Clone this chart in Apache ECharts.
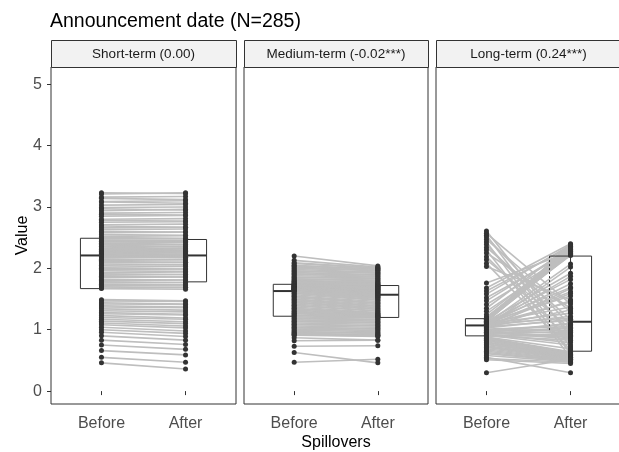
<!DOCTYPE html>
<html>
<head>
<meta charset="utf-8">
<script src="https://cdn.jsdelivr.net/npm/echarts@6/dist/echarts.min.js"></script>
<style>
  html, body { margin: 0; padding: 0; background: #fff; }
  #chart { width: 619px; height: 452px; }
</style>
</head>
<body>
<div id="chart"></div>
<script>
// facet titles, categories, ticks
var panelNames = ['Short-term (0.00)', 'Medium-term (-0.02***)', 'Long-term (0.24***)'];
var xLabels = ['Before', 'After'];
var yTicks = [0, 1, 2, 3, 4, 5];

// paired values (Before -> After)
var shortBefore = [3.23, 3.21, 3.16, 3.14, 3.09, 3.08, 3.03, 2.99, 2.97, 2.94, 2.90, 2.88, 2.85, 2.80, 2.78, 2.75, 2.71, 2.69, 2.66, 2.63, 2.60, 2.58, 2.55, 2.52, 2.50,
  2.48, 2.46, 2.44, 2.43, 2.41, 2.39, 2.38, 2.36, 2.35, 2.33, 2.32, 2.31, 2.29, 2.28, 2.27, 2.26, 2.25, 2.24, 2.23, 2.22, 2.21, 2.21, 2.20, 2.19, 2.19,
  2.17, 2.15, 2.13, 2.11, 2.09, 2.07, 2.05, 2.02, 2.00, 1.98, 1.96, 1.93, 1.91, 1.89, 1.87, 1.85, 1.82, 1.80, 1.78, 1.76, 1.74, 1.72, 1.70, 1.68, 1.67,
  1.49, 1.47, 1.44, 1.42, 1.39, 1.37, 1.34, 1.31, 1.28, 1.26, 1.23, 1.20, 1.17, 1.14, 1.11, 1.08, 1.04, 1.00, 0.96, 0.90, 0.83, 0.75, 0.66, 0.55, 0.46];
var shortAfter = [3.22, 3.23, 3.17, 3.12, 3.10, 3.06, 3.04, 3.00, 2.95, 2.96, 2.91, 2.87, 2.86, 2.81, 2.77, 2.76, 2.72, 2.67, 2.67, 2.64, 2.59, 2.59, 2.54, 2.53, 2.49,
  2.48, 2.45, 2.44, 2.42, 2.39, 2.38, 2.35, 2.35, 2.32, 2.32, 2.30, 2.29, 2.28, 2.27, 2.25, 2.25, 2.23, 2.22, 2.21, 2.20, 2.19, 2.21, 2.18, 2.20, 2.17,
  2.18, 2.14, 2.14, 2.10, 2.10, 2.06, 2.06, 2.03, 1.99, 1.99, 1.95, 1.94, 1.90, 1.90, 1.86, 1.86, 1.81, 1.81, 1.77, 1.77, 1.73, 1.73, 1.69, 1.69, 1.66,
  1.47, 1.46, 1.42, 1.41, 1.37, 1.36, 1.32, 1.29, 1.25, 1.24, 1.19, 1.17, 1.13, 1.10, 1.06, 1.03, 0.98, 0.94, 0.89, 0.83, 0.76, 0.68, 0.59, 0.47, 0.36];

var mediumBefore = [2.20, 2.13, 2.09, 2.08, 2.05, 2.04, 2.02, 2.00, 1.98, 1.96, 1.95, 1.93, 1.91, 1.90, 1.88, 1.86, 1.85, 1.83, 1.82, 1.80, 1.79, 1.78, 1.77, 1.76, 1.75,
  1.74, 1.74, 1.73, 1.73, 1.72, 1.72, 1.71, 1.71, 1.70, 1.70, 1.69, 1.69, 1.68, 1.68, 1.67, 1.67, 1.67, 1.66, 1.66, 1.66, 1.65, 1.65, 1.65, 1.64, 1.64,
  1.62, 1.60, 1.59, 1.57, 1.55, 1.54, 1.52, 1.50, 1.49, 1.47, 1.45, 1.44, 1.42, 1.40, 1.39, 1.37, 1.35, 1.34, 1.32, 1.30, 1.29, 1.27, 1.26, 1.24, 1.23,
  1.21, 1.19, 1.18, 1.16, 1.14, 1.13, 1.11, 1.09, 1.08, 1.06, 1.04, 1.03, 1.01, 0.99, 0.97, 0.96, 0.94, 0.93, 0.92, 0.91, 0.87, 0.82, 0.73, 0.63, 0.47];
var mediumAfter = [2.04, 2.02, 2.01, 2.00, 1.99, 1.98, 1.97, 1.96, 1.94, 1.93, 1.92, 1.90, 1.89, 1.87, 1.86, 1.84, 1.83, 1.81, 1.80, 1.78, 1.77, 1.76, 1.75, 1.74, 1.73,
  1.72, 1.72, 1.71, 1.70, 1.70, 1.69, 1.68, 1.68, 1.67, 1.66, 1.66, 1.65, 1.64, 1.63, 1.63, 1.62, 1.61, 1.60, 1.59, 1.58, 1.57, 1.56, 1.55, 1.54, 1.53,
  1.52, 1.51, 1.49, 1.48, 1.46, 1.44, 1.43, 1.41, 1.39, 1.38, 1.36, 1.34, 1.33, 1.31, 1.30, 1.28, 1.27, 1.26, 1.25, 1.24, 1.23, 1.22, 1.22, 1.21, 1.20,
  1.19, 1.17, 1.16, 1.14, 1.12, 1.11, 1.09, 1.07, 1.06, 1.04, 1.02, 1.01, 0.99, 0.97, 0.95, 0.94, 0.92, 0.91, 0.90, 0.89, 0.83, 0.83, 0.74, 0.46, 0.52];

var longBefore = [2.61, 2.57, 2.54, 2.51, 2.47, 2.43, 2.39, 2.34, 2.30, 2.25, 2.19, 2.14, 2.08, 2.03,
  1.76,
  1.68, 1.63, 1.58, 1.52, 1.47, 1.41, 1.35, 1.30, 1.25, 1.21,
  1.19, 1.19, 1.18, 1.18, 1.17, 1.17, 1.16, 1.16, 1.15, 1.15, 1.14, 1.14, 1.13, 1.13, 1.13, 1.12, 1.12, 1.11, 1.11, 1.10, 1.10, 1.09, 1.09, 1.08, 1.08,
  1.07, 1.07, 1.06, 1.05, 1.05, 1.04, 1.03, 1.03, 1.02, 1.01, 1.00, 1.00, 0.99, 0.98, 0.97, 0.96, 0.96, 0.95, 0.94, 0.93, 0.93, 0.92, 0.91, 0.91, 0.90,
  0.89, 0.88, 0.87, 0.86, 0.85, 0.84, 0.83, 0.82, 0.80, 0.79, 0.77, 0.76, 0.74, 0.72, 0.71, 0.69, 0.67, 0.65, 0.63, 0.61, 0.58, 0.55, 0.53, 0.51, 0.30];
var longAfter = [0.89, 1.42, 0.72, 1.07, 1.29, 0.61, 0.95, 1.17, 0.55, 1.35, 0.82, 1.02, 0.67, 1.49,
  2.27,
  2.40, 2.35, 2.38, 2.27, 2.32, 2.24, 2.37, 2.22, 2.30, 2.25,
  2.33, 2.21, 2.28, 2.36, 2.23, 2.31, 2.26, 2.34, 2.22, 2.29, 2.24, 2.39, 2.27, 2.32, 1.92, 1.69, 1.55, 1.82, 1.37, 2.07, 1.27, 1.62, 1.19, 1.45, 1.75,
  1.87, 1.22, 1.59, 1.15, 2.02, 1.32, 1.47, 1.17, 1.67, 1.05, 0.99, 0.93, 1.09, 0.87, 1.02, 0.96, 0.85, 1.11, 0.91, 0.97, 0.79, 1.04, 0.89, 0.75, 0.83,
  0.92, 0.69, 0.64, 0.63, 0.62, 0.61, 0.60, 0.59, 0.59, 0.58, 0.57, 0.57, 0.56, 0.55, 0.54, 0.53, 0.52, 0.51, 0.50, 0.49, 0.48, 0.30, 0.47, 0.45, 0.52];

// box statistics [q1, median, q3] per panel
var boxBefore = [[1.67, 2.21, 2.49], [1.22, 1.63, 1.74], [0.90, 1.07, 1.18]];
var boxAfter = [[1.78, 2.21, 2.47], [1.20, 1.57, 1.72], [0.65, 1.13, 2.20]];

var pairs = [[shortBefore, shortAfter], [mediumBefore, mediumAfter], [longBefore, longAfter]];

var FONT = "'Liberation Sans', Arial, sans-serif";
var gridLeft = [51, 244, 436];
var gridWidth = [185, 184, 185];
var TOP = 67, HEIGHT = 337;

var chart = echarts.init(document.getElementById('chart'));

var grids = [], xAxes = [], yAxes = [], series = [], graphics = [];

gridLeft.forEach(function (left, i) {
  grids.push({ left: left, top: TOP, width: gridWidth[i], height: HEIGHT, show: true,
    outerBoundsMode: 'none', containLabel: false,
    borderColor: '#333', borderWidth: 1, backgroundColor: '#fff' });

  xAxes.push({
    type: 'value', gridIndex: i, min: 0.4, max: 2.6,
    name: i === 1 ? 'Spillovers' : '', nameLocation: 'middle', nameGap: 31, nameMoveOverlap: false,
    nameTextStyle: { fontFamily: FONT, fontSize: 16, color: '#000' },
    axisLine: { show: false },
    splitLine: { show: false },
    axisTick: { show: true, length: 4, customValues: [1, 2], lineStyle: { color: '#333' } },
    axisLabel: { customValues: [1, 2], margin: 12, fontFamily: FONT, fontSize: 16, color: '#4d4d4d',
      formatter: function (v) { return xLabels[Math.round(v) - 1]; } }
  });

  yAxes.push({
    type: 'value', gridIndex: i, min: -0.21, max: 5.28,
    name: i === 0 ? 'Value' : '', nameLocation: 'middle', nameGap: 20, nameMoveOverlap: false,
    nameTextStyle: { fontFamily: FONT, fontSize: 16, color: '#000' },
    axisLine: { show: false },
    splitLine: { show: false },
    axisTick: { show: i === 0, length: 4, customValues: yTicks, lineStyle: { color: '#333' } },
    axisLabel: { show: i === 0, customValues: yTicks, margin: 9, fontFamily: FONT, fontSize: 16, color: '#4d4d4d' }
  });

  var before = pairs[i][0], after = pairs[i][1];
  var rows = before.map(function (b, k) { return [b, after[k]]; });

  // grey pair lines
  series.push({
    type: 'custom', xAxisIndex: i, yAxisIndex: i, data: rows, silent: true, z: 1,
    renderItem: function (params, api) {
      var p1 = api.coord([1, api.value(0)]);
      var p2 = api.coord([2, api.value(1)]);
      return { type: 'line', shape: { x1: p1[0], y1: p1[1], x2: p2[0], y2: p2[1] },
        style: { stroke: '#bebebe', lineWidth: 1.6 } };
    }
  });

  // points
  series.push({
    type: 'scatter', xAxisIndex: i, yAxisIndex: i, silent: true, z: 3,
    symbolSize: 5, itemStyle: { color: '#333', opacity: 1 },
    data: before.map(function (b) { return [1, b]; }).concat(after.map(function (a) { return [2, a]; }))
  });

  // boxes
  var wide = i === 2;
  series.push({
    type: 'custom', xAxisIndex: i, yAxisIndex: i, silent: true, z: 4,
    data: [[1].concat(boxBefore[i]), [2].concat(boxAfter[i])],
    renderItem: function (params, api) {
      var side = api.value(0);
      var x0 = side === 1 ? 0.75 : 2.0, x1 = side === 1 ? 1.0 : 2.25;
      var a = api.coord([x0, api.value(3)]);
      var b = api.coord([x1, api.value(1)]);
      var m0 = api.coord([x0, api.value(2)]);
      var m1 = api.coord([x1, api.value(2)]);
      var kids = [
        { type: 'rect', shape: { x: a[0], y: a[1], width: b[0] - a[0], height: b[1] - a[1] },
          style: { fill: 'none', stroke: '#333', lineWidth: 1 } },
        { type: 'line', shape: { x1: m0[0], y1: m0[1], x2: m1[0], y2: m1[1] },
          style: { stroke: '#333', lineWidth: 2 } }
      ];
      if (wide && side === 2) {
        var e0 = api.coord([1.75, api.value(3)]);
        var e1 = api.coord([1.75, 0.97]);
        kids.push({ type: 'line', shape: { x1: e0[0], y1: e0[1], x2: a[0], y2: a[1] },
          style: { stroke: '#333', lineWidth: 1 } });
        kids.push({ type: 'line', shape: { x1: e0[0], y1: e0[1], x2: e1[0], y2: e1[1] },
          style: { stroke: '#333', lineWidth: 1, lineDash: [2, 2] } });
      }
      return { type: 'group', children: kids };
    }
  });

  // strip header
  graphics.push({ type: 'rect', left: left, top: 40, shape: { width: gridWidth[i], height: 27 },
    style: { fill: '#f2f2f2', stroke: '#333', lineWidth: 1 }, z: 10 });
  graphics.push({ type: 'text', x: left + gridWidth[i] / 2, y: 54,
    style: { text: panelNames[i], fontFamily: FONT, fontSize: 13.5, fill: '#1a1a1a',
      align: 'center', verticalAlign: 'middle' }, z: 11 });
});

chart.setOption({
  backgroundColor: '#fff',
  animation: false,
  title: { text: 'Announcement date (N=285)', left: 50, top: 12, padding: 0,
    textStyle: { fontFamily: FONT, fontSize: 19.5, fontWeight: 'normal', color: '#000' } },
  grid: grids,
  xAxis: xAxes,
  yAxis: yAxes,
  series: series,
  graphic: graphics
});
</script>
</body>
</html>
